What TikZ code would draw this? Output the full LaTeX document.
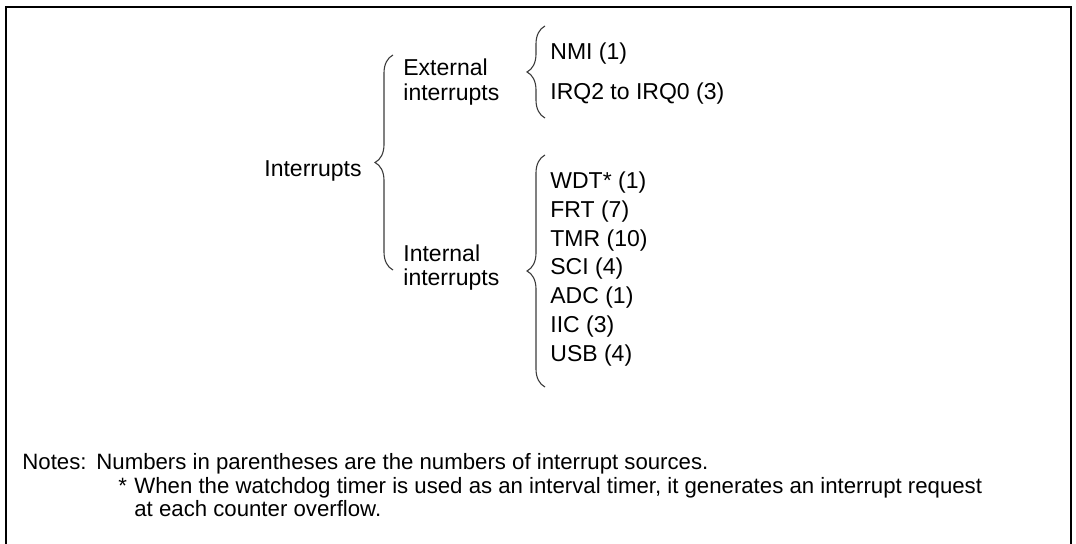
\documentclass[tikz,border=0pt]{standalone}
\usepackage{fontspec}
\setmainfont{Liberation Sans}
\usetikzlibrary{decorations.pathreplacing}
\definecolor{bracegray}{RGB}{60, 60, 60}

\tikzset{
  lbl/.style={anchor=base west, inner sep=0pt, font=\fontsize{11.5}{13}\selectfont},
  notelbl/.style={lbl, font=\fontsize{11.1}{13}\selectfont},
  brc/.style={decorate, decoration={brace, amplitude=9pt}, line width=0.55pt, bracegray},
  frm/.style={line width=1.4pt},
}

\begin{document}
\begin{tikzpicture}[x=0.5pt, y=-0.5pt]
\clip (0,0) rectangle (1076,544);
% open frame
\draw[frm] (6,570) -- (6,7) -- (1071,7) -- (1071,570);
% first level
\node[lbl] (irq) at (264,177) {Interrupts};
\coordinate (irqTop) at (393,55);
\coordinate (irqBot) at (393,270);
\draw[brc] (irqBot) -- (irqTop);
% second level
\node[lbl] (ext1) at (403,76) {External};
\node[lbl] (ext2) at (403,101) {interrupts};
\node[lbl] (int1) at (403,262) {Internal};
\node[lbl] (int2) at (403,286) {interrupts};
\coordinate (extTop) at (545,26);
\coordinate (extBot) at (545,118);
\draw[brc] (extBot) -- (extTop);
\coordinate (intTop) at (545,155);
\coordinate (intBot) at (545,387);
\draw[brc] (intBot) -- (intTop);
% sources
\node[lbl] (nmi) at (550,60) {NMI (1)};
\node[lbl] (irqn) at (550,100) {IRQ2 to IRQ0 (3)};
\node[lbl] (wdt) at (550,188.6) {WDT* (1)};
\node[lbl] (frt) at (550,217.4) {FRT (7)};
\node[lbl] (tmr) at (550,246.2) {TMR (10)};
\node[lbl] (sci) at (550,275) {SCI (4)};
\node[lbl] (adc) at (550,303.8) {ADC (1)};
\node[lbl] (iic) at (550,332.6) {IIC (3)};
\node[lbl] (usb) at (550,361.4) {USB (4)};
% notes
\node[notelbl] (notes) at (22,470) {Notes:};
\node[notelbl] (note1) at (96,470) {Numbers in parentheses are the numbers of interrupt sources.};
\node[notelbl] (star) at (118,494) {*};
\node[notelbl] (note2) at (134,494) {When the watchdog timer is used as an interval timer, it generates an interrupt request};
\node[notelbl] (note3) at (134,517) {at each counter overflow.};
\end{tikzpicture}
\end{document}
